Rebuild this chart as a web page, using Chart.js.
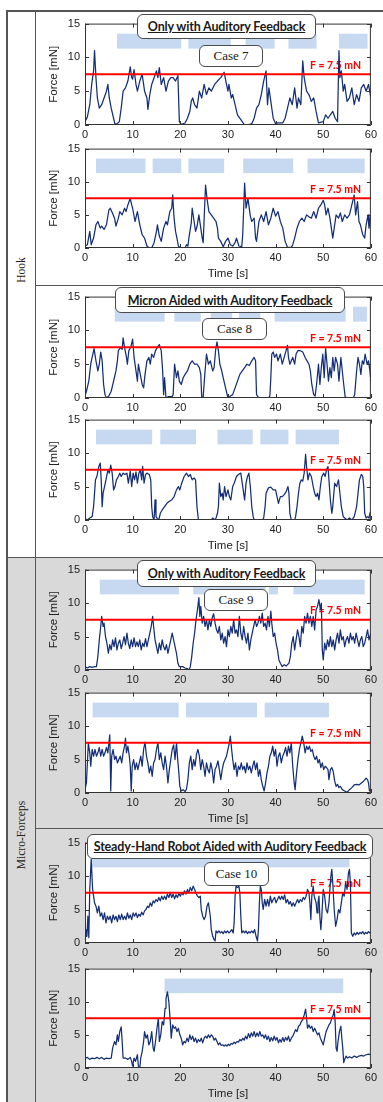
<!DOCTYPE html>
<html>
<head>
<meta charset="utf-8">
<script src="https://cdn.jsdelivr.net/npm/chart.js@4.4.1/dist/chart.umd.min.js"></script>
<style>
  body { margin:0; background:#fff; width:383px; height:1102px; position:relative; overflow:hidden; }
  canvas { position:absolute; }
  .gray { position:absolute; left:7px; top:557px; width:376px; height:545px; background:#d9d9d9; }
  .rule { position:absolute; background:#555; }
  .tbox, .cbox { position:absolute; background:#fff; border:1.5px solid #4a4a4a; border-radius:6px;
    box-sizing:border-box; display:flex; align-items:center; justify-content:center; white-space:nowrap; z-index:5; color:#1a1a1a; }
  .tbox { font-family:Lato, "Open Sans", sans-serif; font-weight:700; font-size:12.5px; text-decoration:underline; letter-spacing:-0.15px; }
  .cbox { font-family:"Liberation Serif", serif; font-size:13px; }
  .side { position:absolute; font-family:"Liberation Serif", serif; font-size:11.5px; color:#222;
    transform:translate(-50%,-50%) rotate(-90deg); white-space:nowrap; }
</style>
</head>
<body>
<div class="gray"></div>
<div class="rule" style="left:6px;top:10px;width:377px;height:1.5px"></div>
<div class="rule" style="left:6px;top:10px;width:1.5px;height:1092px"></div>
<div class="rule" style="left:34.5px;top:10px;width:1.5px;height:1092px"></div>
<div class="rule" style="left:6px;top:556.5px;width:377px;height:1.5px"></div>
<div class="rule" style="left:35px;top:284.5px;width:348px;height:1.5px"></div>
<div class="rule" style="left:35px;top:827.5px;width:348px;height:1.5px"></div>
<div class="side" style="left:21px;top:270px">Hook</div>
<div class="side" style="left:21px;top:835px">Micro-Forceps</div>

<div class="tbox" style="left:137px;top:14px;width:179px;height:25px">Only with Auditory Feedback</div>
<div class="cbox" style="left:199px;top:45px;width:64px;height:22px">Case 7</div>
<div class="tbox" style="left:115px;top:287px;width:230px;height:26px">Micron Aided with Auditory Feedback</div>
<div class="cbox" style="left:202px;top:318px;width:65px;height:22px">Case 8</div>
<div class="tbox" style="left:137px;top:560px;width:179px;height:27px">Only with Auditory Feedback</div>
<div class="cbox" style="left:204px;top:589px;width:64px;height:22px">Case 9</div>
<div class="tbox" style="left:87px;top:834px;width:286px;height:25px">Steady-Hand Robot Aided with Auditory Feedback</div>
<div class="cbox" style="left:204px;top:862px;width:65px;height:24px">Case 10</div>

<script>
// threshold line
const thresholdTime = [0, 60];
const thresholdForce = [7.5, 7.5];
const thresholdLabel = 'F = 7.5 mN';

// light blue task bands (start / end in s)
const bandForce = [11.3, 13.5];

// ---- Hook, case 7 ----
const case7TimeA = [
  0,0.5,1,1.4,1.8,2,2.3,2.6,3,3.5,
  4,4.5,4.8,5.1,5.5,6,6.3,6.8,7.2,7.6,
  8,8.5,9,9.5,9.8,10,10.3,10.7,11,11.5,
  12,12.5,13,13.2,13.6,14,14.5,15,15.3,15.6,
  16,16.5,17,17.5,18,18.5,19,19.5,19.8,20.2,
  21,21.5,22,22.3,22.6,23,23.5,24,24.5,25,
  25.5,26,26.5,27.2,27.8,28.5,29.2,29.7,30,30.2,
  30.7,31,31.5,32,33,33.5,34.5,35,35.5,36,
  36.5,37,37.5,38,38.3,38.6,39,39.5,40,40.5,
  41.5,42,42.5,43,43.5,44,44.5,44.8,45.3,45.7,
  46,46.5,47,47.5,48,48.5,49,50,50.5,51,
  52,52.5,53,53.3,53.5,53.8,54.2,54.5,55,55.5,
  56,56.5,57,57.5,58,58.5,59,59.5,60];
const case7ForceA = [
  0.5,1.2,3,6,8,11,7,4,2.5,3,
  4,5,6,4,2.5,1,0.1,0.2,0.5,2.5,
  5,5.5,6.5,8.6,7,6.8,8.2,6,5,6.5,
  7.5,5,4,2.3,4.5,6,7,8,7,8.5,
  6,7,5,6.5,7,7,6.5,7.3,0.5,0.1,
  0.3,1,2,3.5,4,3,2.5,5,4,6,
  4.5,5.5,5,6,6.5,7,7.8,6,5,6,
  4,4.5,3,1.5,0.5,0,0.1,0.2,1,2.5,
  3,4.5,6.5,8,3,5.5,3.5,1,0.2,0.3,
  0.3,1,2.5,4,3,5.5,2.5,4,3,9.5,
  7,5,4.5,3.5,4,2,0.3,0.5,1.5,1,
  2,1,0.5,11,7,8,5,6,3.5,4,
  5.5,3,4.5,3.5,5.5,6,5,6,4];
const case7StartA = [6.7, 21.7, 33.7, 42.7, 53.3];
const case7EndA = [20.2, 30.6, 39.8, 48.6, 59.3];

const case7TimeB = [
  0,0.5,1,1.3,1.8,2.3,2.7,3.2,3.5,4,
  4.5,5,5.3,5.8,6.2,6.5,7,7.3,7.8,8.3,
  8.6,9,9.5,9.8,10,10.5,11,11.5,12,12.5,
  13,13.5,14,14.5,15,15.2,15.6,16,16.5,17,
  17.3,17.8,18.2,18.4,18.7,19,19.3,19.6,20,21,
  21.3,21.6,21.8,22.3,22.5,22.9,23.2,23.5,23.9,24.3,
  24.6,24.8,25.3,25.6,26,26.5,27,27.5,27.8,28,
  28.5,29,29.5,30,30.5,31,31.5,31.8,32.3,32.9,
  33.1,33.5,33.8,34.2,34.7,35,35.5,35.8,36,36.5,
  37,37.5,38,38.5,39,39.5,40,40.5,41,41.5,
  42,42.5,43.3,43.6,44,44.5,45,45.5,46,46.5,
  47,47.5,48,48.5,49,49.5,50,50.3,50.6,51,
  51.4,51.8,52,52.3,52.7,53.2,53.6,54,54.5,55,
  55.5,56,56.5,56.8,57.2,57.5,57.8,58.3,58.7,59,
  59.4,59.6,60];
const case7ForceB = [
  0.3,0.5,2.5,0.5,1.5,3.5,4,3,3.3,2.8,
  3.5,5.7,6,5.2,4.5,3.3,4.5,5.5,5,6,
  5.5,6.5,7.5,6.5,6,4,5.5,3.5,2,1.5,
  0.3,0,0,0.8,2.5,3.5,1.8,1,3,4,
  3.5,5.5,6,8,4.5,2.5,1.5,0.3,0,0,
  0.5,0.3,1.5,3.8,6,4,2.5,3.2,5,3,
  1.5,0.8,9.5,7.5,5.5,5,4.5,4,3,1.5,
  1,0.2,1,1.5,0.5,0.3,0.8,1.5,0.3,0.2,
  2,9.8,6,7.5,4.8,4,4.5,1.5,1,4,
  5,4,5.5,3.5,4.5,6,4.8,5.5,4,3,
  1,0.1,0.1,0.5,1.5,3,4,4.5,4,5,
  4.7,4.5,5.5,4.5,6,6.5,7.2,6.5,5,6,
  4.5,2.5,1.5,3,5,4.5,5.3,4,5,4.5,
  5,6.5,8,5,7,4,3.5,2,1.5,3.5,
  5,3,5];
const case7StartB = [2.3, 14.2, 21.7, 33.2, 46.7];
const case7EndB = [12.7, 20.2, 29.2, 43.7, 58.7];

// ---- Hook, case 8 ----
const case8TimeA = [
  0,0.3,0.8,1.2,1.5,1.9,2.3,2.7,3,3.3,
  3.6,3.9,4.2,4.5,5,5.5,6,6.5,6.8,7,
  7.5,7.8,8,8.3,8.7,8.9,9.2,9.6,10,10.3,
  10.7,11,11.2,11.6,12,12.3,12.6,13,13.4,13.7,
  14,14.4,14.8,15.2,15.6,16,16.3,16.5,16.7,17,
  17.5,18.3,18.5,18.8,19.2,19.5,19.8,20.2,20.6,21,
  21.5,22,22.5,23,23.5,24,24.3,24.5,24.8,25.2,
  25.5,25.9,26.3,26.8,27.1,27.4,27.7,28,28.3,28.7,
  29,29.5,30,30.5,31,31.5,32,32.5,33,33.5,
  34,34.5,35,35.5,35.8,36,36.5,38.5,38.8,39,
  39.2,39.5,39.8,40.2,40.5,41,41.4,41.8,42.2,42.5,
  42.7,43,43.3,43.6,44,44.3,44.7,45.2,45.7,46.2,
  46.6,47,47.3,47.6,48,48.3,48.6,49,49.3,49.6,
  49.9,50.2,50.5,50.8,51.1,51.4,51.7,52,52.3,52.6,
  53,53.3,53.7,54,54.3,54.6,55,56.3,56.6,57,
  57.3,57.6,57.9,58.2,58.5,58.8,59.2,59.5,59.8,60];
const case8ForceA = [
  0.3,1,2.5,5,6,7.3,5.5,4,5,6.8,
  5.5,2,0.5,0,0.3,1,2.5,4,5.5,7,
  7.5,7.2,8.9,7.5,6,5,7,7.5,8.7,6,
  4,2.5,5,3.5,2,1.5,3.5,5.5,6,5,
  6.5,6,7,7.5,7.9,7,4,0.5,3,0,
  0.2,0.2,0.5,5,3,4,2.5,2,3,3.5,
  4,5,5.5,5,5,4.5,3.5,0,0.2,4,
  6.5,5,5.5,4,4.5,7,8.3,7,5,4,
  3,1.5,0,0.3,0.5,1.5,2.5,3.5,4,4.5,
  5,4.8,5.5,6,5.5,0.5,0,0,0.3,3,
  6.5,6.8,6,6.5,5.5,6.5,5,6,7,7.8,
  6,5,5.5,6,5,6.5,7,7,6.8,6,
  5.5,5,4,2,0.5,0.3,2,5,2,4.5,
  6.5,3,7.3,5,2.5,4.5,3,6,4,6,
  5,2.5,6,4,2,0.2,0,0,0.5,4,
  6,5,3.5,5.5,5,6.5,5,5.5,4,2.5];
const case8StartA = [6.25, 18.75, 26.4, 32.3, 39.8, 56.25];
const case8EndA = [16.7, 24.3, 30.9, 36.8, 54.7, 59.2];

const case8TimeB = [
  0,0.5,1,1.5,1.8,2.2,2.5,2.9,3.2,3.4,
  3.6,3.8,4.1,4.4,4.8,5.1,5.4,5.7,6,6.3,
  6.6,7,7.3,7.6,8,8.4,8.8,9.1,9.5,9.8,
  10.1,10.4,10.7,11,11.3,11.6,11.9,12.1,12.4,12.7,
  13,13.5,13.8,14,14.2,14.5,14.7,14.9,15.2,15.5,
  15.8,16.2,16.7,17.2,17.7,18.2,18.7,19.2,19.6,19.9,
  20.3,20.8,21.3,21.7,22.1,22.5,22.9,23.2,23.5,23.8,
  26.5,26.8,27.2,27.5,27.8,28,28.2,28.5,28.8,29,
  29.3,29.6,30,30.3,30.6,31,31.3,31.8,32.2,32.7,
  33,33.3,33.5,33.8,34.1,34.4,34.7,35,35.3,35.5,
  37.2,37.5,37.8,38,38.5,39,39.5,40,40.3,40.6,
  41,41.4,41.8,42.2,42.6,42.8,43,43.3,44,44.2,
  44.5,44.8,45.1,45.4,45.7,46,46.3,46.5,46.8,47.1,
  47.5,47.9,48.2,48.5,48.8,49.1,49.4,49.7,50.1,50.4,
  50.7,51,51.2,51.5,51.8,52,52.4,52.8,53.2,53.5,
  53.8,54.2,54.7,55,55.5,56,56.5,57,57.3,57.6,
  58,58.3,58.5,58.7,59,59.3,59.6,59.8,60];
const case8ForceB = [
  0.2,0,0.3,0.5,2,6,6.5,8,8.5,6,
  2,4,5,6,7.5,7,8.2,7,4.5,5,
  6,6.5,7,6.5,7,6.8,7,5.5,7.3,5,
  7,6,7.2,5.5,7,7.5,6,8,5.5,6.8,
  7,6.8,6,2,0.5,0,3,0.5,0.2,0,
  1,1.5,2,2.5,2.8,3,3.5,4.5,5,4.5,
  5.5,6.5,7,6.5,6.8,6,6.3,6,2,0,
  0,0.3,0,0.3,1,2,5.5,3.5,4,3,
  5,3.5,4.5,3.5,3,5,5.5,6.5,6.8,7,
  5.5,4,3,5.5,6.5,7,5,2,0.5,0,
  0,0.3,2,4,4.8,4.9,4.5,4.5,3.5,2.5,
  3.5,3.5,3.8,4.2,5,4,1,0,0,0.5,
  2,4,5.5,6,5.8,7,9.8,8,6,7,
  6.5,5,4,3.5,4,3,5,6.5,7,6.5,
  7.5,8,6,3,1,2,5.5,5,6,4,
  2,0.5,0.2,0,0.3,0,0.5,2,4,6,
  6.8,6.5,5,1,0.3,0.5,0.3,1,1.3];
const case8StartB = [2.3, 15.8, 27.8, 36.8, 44.2];
const case8EndB = [14.1, 23.3, 35.2, 42.7, 53.3];

// ---- Micro-Forceps, case 9 ----
const case9TimeA = [
  0,0.5,1,1.5,2,2.4,2.7,3,3.3,3.5,
  3.8,4,4.3,4.6,4.9,5.2,5.5,5.8,6.1,6.4,
  6.7,7,7.3,7.6,7.9,8.2,8.5,8.8,9.1,9.4,
  9.7,10,10.3,10.6,10.9,11.2,11.5,11.8,12.1,12.4,
  12.7,13,13.3,13.6,13.9,14.2,14.4,14.7,15,15.3,
  15.6,15.9,16.2,16.5,16.8,17.1,17.4,17.7,18,18.3,
  18.6,18.9,19.2,19.5,19.8,20.5,21,21.5,21.8,22.1,
  22.4,22.7,23,23.3,23.6,23.9,24.1,24.3,24.6,24.9,
  25.2,25.5,25.8,26.1,26.4,26.7,27,27.3,27.6,27.9,
  28.2,28.5,28.8,29.1,29.4,29.7,30,30.3,30.6,30.9,
  31.2,31.5,31.8,32.1,32.4,32.7,33,33.3,33.6,33.9,
  34.2,34.5,34.8,35.1,35.4,35.7,36,36.3,36.6,36.9,
  37.2,37.5,37.8,38.1,38.4,38.7,39,39.2,39.5,39.8,
  40.1,40.4,40.7,41,41.4,41.8,42.2,42.5,42.8,43.1,
  43.4,43.7,44,44.3,44.6,44.9,45.2,45.5,45.8,46.1,
  46.4,46.7,47,47.3,47.6,47.9,48.2,48.5,48.8,49.1,
  49.4,49.6,49.8,50,50.3,50.6,50.9,51.2,51.5,51.8,
  52.1,52.4,52.7,53,53.3,53.6,53.9,54.2,54.5,54.8,
  55.1,55.4,55.7,56,56.3,56.6,56.9,57.2,57.5,57.8,
  58.1,58.4,58.7,59,59.3,59.6,60];
const case9ForceA = [
  0.5,0.3,0.5,0.4,0.5,0.5,2,4.5,6.5,8,
  6.5,7,5,4,2.5,3.8,3,4.5,3.5,4.8,
  3,4,4.5,3.2,4,5,3.8,5.5,4,3.2,
  4.5,3.5,4.8,3.5,4.2,3.5,4.5,3,4,3.5,
  4.7,3.5,4.5,5.5,6.5,8,6.5,4.5,3.5,2.5,
  4,3,4.5,3.5,3,3.8,2.5,3.5,4.5,5.5,
  4.5,3.5,2.5,1,0.5,0.5,0.3,0.2,0,0.5,
  2,4,5.5,7.5,9,10.8,8,9.5,7,8,
  6.5,7.5,6,7.5,6.5,7.8,8.4,7,6,5.5,
  6.5,4.5,5.5,4,5,3.5,6,5,6.5,5.5,
  7.5,5.5,6,5,8,5.5,4.5,6.5,5,4,
  5.5,3,4.5,5.5,6.5,7.5,6.5,7,8,7,
  8.5,6.5,7,6,8,6.5,8.8,7,5,5.5,
  4,3,1.5,1,0.5,0.8,0.6,0.8,1,2,
  4,5,3,4.5,6,5,3.5,6.5,5.5,8,
  7,8.5,7,8,6.5,8,6,9,9.5,10.5,
  9,10,3,1.5,4,3,4.5,3.5,5,3.5,
  4.5,3,4.5,5.5,4,6,4.5,5,3.5,4.5,
  5,4,5.5,4.5,5,4,5.5,4.5,3.5,4.5,
  5,3.5,4,5,6,4.5,5.5];
const case9StartA = [3.1, 22.7, 38.6, 43.75];
const case9EndA = [19.7, 37.9, 40.5, 58.7];

const case9TimeB = [
  0,0.3,0.7,1,1.2,1.5,1.8,2.1,2.4,2.7,
  3,3.3,3.6,3.9,4.2,4.5,4.8,5.2,5.3,5.4,
  5.6,5.9,6.2,6.5,6.8,7.1,7.4,7.7,8,8.3,
  8.5,8.7,9,9.3,9.5,9.7,9.9,10.2,10.5,10.8,
  11.1,11.4,11.7,12,12.3,12.6,12.9,13.2,13.5,13.8,
  14.1,14.4,14.7,15,15.3,15.6,15.9,16.2,16.5,16.8,
  17.1,17.4,17.7,18,18.3,18.6,18.9,19.2,19.4,19.7,
  19.9,20.2,20.6,21,21.3,21.6,21.9,22.2,22.5,22.8,
  23.1,23.4,23.7,24,24.3,24.6,24.9,25.2,25.5,25.8,
  26.1,26.4,26.7,27,27.3,27.6,27.9,28.2,28.5,28.8,
  29.1,29.4,29.7,30,30.3,30.5,30.7,31,31.3,31.6,
  31.9,32.2,32.5,32.8,33.1,33.4,33.7,34,34.3,34.6,
  34.9,35.2,35.5,35.8,36.1,36.4,36.7,37,37.3,37.6,
  37.9,38.2,38.5,38.8,39.1,39.4,39.7,40,40.3,40.6,
  40.9,41.2,41.5,41.8,42.1,42.4,42.7,43,43.3,43.6,
  43.9,44.1,44.4,44.7,45,45.3,45.6,45.9,46.2,46.5,
  46.8,47.1,47.4,47.7,48,48.3,48.6,48.9,49.2,49.5,
  49.8,50.1,50.4,50.7,51,51.2,51.5,51.8,52.1,52.4,
  52.7,53,53.3,53.6,54,54.5,55,55.5,56,56.5,
  57,57.5,58,58.5,59,59.3,59.5,59.7,60];
const case9ForceB = [
  0.5,1.5,7.5,6,4,6.5,5.5,6.5,5.5,6,
  6.8,5.5,6.5,5.5,6,6.8,6,8.7,5,0.3,
  5.5,6.5,5,5.5,4.5,5,5.5,4.5,6,7,
  8.2,6,7,5.5,4,0.3,4,5,3.5,4.5,
  3.5,4.5,5.5,4,6.5,7.6,5.5,4.5,3,4,
  2.5,4.5,5,6.5,7.5,5,6,4.5,3.5,5.5,
  4,1.5,3.5,5,6.5,7.2,5,7.5,5.5,3,
  1,0.3,0.5,0.2,0.6,2,4.5,5.5,3.5,5,
  4,5.8,6.5,5.5,3.5,5,4,2.5,4.5,3.5,
  3,4.5,3.5,1.5,3.5,4,4.8,3.5,2,3.5,
  4.5,5,5.5,6.5,7.5,8.5,7,5,3.5,4.5,
  2.5,4,3.5,4.5,3.5,4,3,4.5,3.5,4,
  3,4,4.8,3.5,4.5,2.5,3.5,2,1,0.3,
  1.5,3,4,5.5,6,7,5.5,6.5,4,5.5,
  6,4.5,5.5,6,6.8,5.5,7,6,7.5,4,
  1.5,0.5,3,5,6.5,7.5,8.5,7.5,6,7,
  6.5,7,6.2,6.5,5.5,5,5.5,4.5,5,3.8,
  4.5,3.5,4,3.8,3.5,2,3.5,3.8,3.2,1.8,
  1,1.3,0.8,1,0.5,0.3,0.1,0.5,0.8,1.2,
  1.3,1.2,1.5,1.8,2.2,2,1.5,0.3,0.5];
const case9StartB = [1.6, 21.2, 37.7];
const case9EndB = [19.65, 36.1, 51.2];

// ---- Micro-Forceps, case 10 ----
const case10TimeA = [
  0,0.2,0.4,0.6,0.8,1,1.3,1.6,1.8,2,
  2.3,2.6,2.9,3.2,3.5,3.8,4.1,4.4,4.7,5,
  5.3,5.6,5.9,6.2,6.5,6.8,7.1,7.4,7.7,8,
  8.3,8.6,8.9,9.2,9.5,9.8,10.1,10.4,10.7,11,
  11.3,11.6,11.9,12.2,12.5,12.8,13.1,13.4,13.7,14,
  14.3,14.6,14.9,15.2,15.5,15.8,16.1,16.4,16.7,17,
  17.3,17.6,17.9,18.2,18.5,18.8,19.1,19.4,19.7,20,
  20.3,20.6,20.9,21.2,21.5,21.8,22.1,22.4,22.7,23,
  23.3,23.6,23.9,24.2,24.4,24.7,25,25.3,25.6,25.9,
  26.1,26.3,26.5,26.8,27.1,27.3,27.5,27.8,28.1,28.4,
  28.7,29,29.3,29.6,29.9,30.2,30.5,30.8,31.1,31.3,
  31.5,31.7,32,32.3,32.5,32.7,32.9,33.2,33.5,33.8,
  34.1,34.4,34.7,35,35.3,35.6,35.9,36.2,36.4,36.6,
  36.8,37,37.2,37.4,37.7,38,38.3,38.6,38.9,39.2,
  39.5,39.8,40.1,40.4,40.7,41,41.3,41.6,41.9,42.2,
  42.5,42.8,43.1,43.4,43.7,44,44.3,44.6,44.9,45.2,
  45.5,45.8,46.1,46.4,46.7,47,47.2,47.4,47.6,47.9,
  48.1,48.3,48.5,48.7,48.9,49.1,49.3,49.5,49.7,50,
  50.3,50.6,50.9,51.2,51.4,51.6,51.8,52,52.3,52.6,
  52.9,53.2,53.5,53.8,54.1,54.4,54.7,55,55.3,55.5,
  55.7,55.9,56.2,56.5,56.8,57.1,57.4,57.7,58,58.3,
  58.6,58.9,59.2,59.5,59.8,60];
const case10ForceA = [
  1,2,1,4,0.8,8,12.5,8,7,6,
  5.5,4.5,5.5,4,4.5,3.5,4.5,3,4,3.5,
  4,3,4.2,3.5,4,3.2,4.2,3.5,4.3,3.5,
  4,3.5,4.5,3.7,4.2,3.5,4.5,4,4.5,3.8,
  4.3,4,4.6,4.2,4.8,5,5.5,5.3,6,5.5,
  6.3,6,6.5,6.2,6.8,6.3,7,6.5,7,6.5,
  7.3,6.8,7.5,6.8,7.3,6.6,7.2,6.8,7.4,7,
  7.5,7.2,7.8,7.3,8,7.5,8.3,7.8,8.5,8,
  7.5,7,6.8,7,5,4,3.5,4,5.5,6,
  5,4,2,1,0.5,0.3,1.8,1.5,1.8,1.5,
  1.7,1.4,1.8,1.5,1.8,1.5,1.7,2,1.5,3,
  7,8.5,8.3,8.5,7.5,4,1.5,1.8,1.5,1.8,
  1.4,1.7,1.5,1.8,1.5,2,1,0.3,2,6,
  8.5,8,6,5,6.5,5.5,6.5,5.5,7,6,
  6.5,6.8,6,6.5,7,6.5,7,6.5,7.2,6,
  6.5,5.8,6.2,5.5,6,5.5,6,6.5,6,6.5,
  6.2,6.8,6.5,7,8,7.5,6,3.5,7,8.5,
  7,6.5,6,4.5,6,7,3.8,2,4,8,
  7,5,4.5,6,8,10,11,9,5,2.5,
  3.5,5,4.5,6,7.5,7,9,8,10.5,11,
  9,1.5,1,1.5,1.2,1.6,1.3,1.6,1.4,1.7,
  1.3,1.6,1.4,1.7,1.5,1.6];
const case10StartA = [1.4];
const case10EndA = [55.5];

const case10TimeB = [
  0,0.5,1,1.5,2,2.5,3,3.5,4,4.5,
  5,5.5,5.8,6.2,6.5,6.8,7,7.3,7.6,7.8,
  8,8.5,9,9.5,9.8,10,10.3,10.6,11,11.2,
  11.5,11.7,12,12.3,12.5,12.8,13.1,13.4,13.7,14,
  14.3,14.5,14.8,15.1,15.4,15.6,15.9,16.2,16.5,16.8,
  17,17.3,17.6,17.9,18.1,18.4,18.7,19,19.3,19.6,
  19.9,20.2,20.5,20.8,21.1,21.4,21.7,22,22.3,22.6,
  22.9,23.2,23.5,23.8,24.1,24.4,24.7,25,25.3,25.6,
  25.9,26.2,26.5,26.8,27.1,27.4,27.7,28,28.3,28.6,
  28.9,29.2,29.5,29.8,30.1,30.4,30.7,31,31.3,31.6,
  31.9,32.2,32.5,32.8,33.1,33.4,33.7,34,34.3,34.6,
  34.9,35.2,35.5,35.8,36.1,36.4,36.7,37,37.3,37.6,
  37.9,38.2,38.5,38.8,39.1,39.4,39.7,40,40.3,40.6,
  40.9,41.2,41.5,41.8,42.1,42.4,42.7,43,43.3,43.6,
  43.9,44.2,44.5,44.8,45.1,45.4,45.7,46,46.3,46.5,
  46.7,47,47.3,47.6,47.9,48.2,48.5,48.8,49.1,49.4,
  49.7,50,50.3,50.6,50.9,51.2,51.5,51.8,52.1,52.3,
  52.5,52.7,52.9,53.1,53.4,53.7,53.9,54.1,54.3,54.5,
  54.8,55.1,55.5,56,56.5,57,57.5,58,58.5,59,
  59.5,60];
const case10ForceB = [
  1.5,1.6,1.3,1.5,1.4,1.6,1.4,1.6,1.3,1.5,
  1.4,1.5,3,4,3.5,5,4,5.5,6.2,4,
  1.5,1.5,1.3,1.6,1,0.3,1.5,1,2,0.3,
  0,1.5,2.5,4,5.5,4.5,5,3.5,4,5.5,
  3,2.5,4,6,7.5,4,5,7,6.5,9,
  10.5,11.5,10,7,4.5,6.5,6,6.2,5.5,6,
  5,4.5,3.5,4,3.8,4.5,4,5,4.3,4.8,
  4,4.5,3.8,4.3,4,4.5,3.8,4.5,4.8,4.5,
  5,4.6,5,4.8,4.2,4.5,4,3.5,3.8,3.4,
  3.5,3.3,3.5,3.3,3.6,3.4,3.7,3.6,3.9,3.7,
  4,3.9,4.3,4.1,4.5,4.2,4.8,4.4,5.2,4.6,
  5.3,4.8,5.5,4.7,5.3,4.8,5.5,4.8,5,4.5,
  5,4.3,4.8,4,4.6,4.1,4.8,4.2,4.6,3.8,
  4.3,3.9,4.6,4,4.6,4.2,4.8,4,4.5,4.8,
  5.3,5.8,5.5,6.3,6.5,7,7.3,8,8.9,7.5,
  6,6.5,6,6.3,5.5,6,5.5,5,5.3,4.5,
  4,3.5,4.5,5.5,6,6.5,6.8,7.5,8,8.8,
  7,3,2.5,4,5.5,6.3,4.5,3,0.8,1.3,
  1.8,1.5,1.7,1.5,1.8,1.6,1.8,1.9,1.8,2,
  2.1,2];
const case10StartB = [16.7];
const case10EndB = [54.2];

const panels = [
  { top: 22,  bottom: 125,  xTitle: false, time: case7TimeA,  force: case7ForceA,  starts: case7StartA,  ends: case7EndA },
  { top: 147, bottom: 248,  xTitle: true,  time: case7TimeB,  force: case7ForceB,  starts: case7StartB,  ends: case7EndB },
  { top: 295, bottom: 398,  xTitle: false, time: case8TimeA,  force: case8ForceA,  starts: case8StartA,  ends: case8EndA },
  { top: 418, bottom: 520,  xTitle: true,  time: case8TimeB,  force: case8ForceB,  starts: case8StartB,  ends: case8EndB },
  { top: 568, bottom: 670,  xTitle: false, time: case9TimeA,  force: case9ForceA,  starts: case9StartA,  ends: case9EndA },
  { top: 691, bottom: 793,  xTitle: true,  time: case9TimeB,  force: case9ForceB,  starts: case9StartB,  ends: case9EndB },
  { top: 841, bottom: 943,  xTitle: false, time: case10TimeA, force: case10ForceA, starts: case10StartA, ends: case10EndA },
  { top: 967, bottom: 1068, xTitle: true,  time: case10TimeB, force: case10ForceB, starts: case10StartB, ends: case10EndB }
];

// white plot area, task bands, threshold label, matlab-style frame with inward ticks
const panelDecor = {
  id: 'panelDecor',
  beforeDraw(chart) {
    const { ctx, chartArea: a } = chart;
    ctx.save();
    ctx.fillStyle = '#fff';
    ctx.fillRect(a.left, a.top, a.right - a.left, a.bottom - a.top);
    ctx.restore();
  },
  beforeDatasetsDraw(chart, args, opts) {
    const { ctx, scales: { x, y } } = chart;
    ctx.save();
    ctx.fillStyle = '#c6d9f0';
    const yTop = y.getPixelForValue(bandForce[1]);
    const yBot = y.getPixelForValue(bandForce[0]);
    opts.starts.forEach((s, i) => {
      const x0 = x.getPixelForValue(s), x1 = x.getPixelForValue(opts.ends[i]);
      ctx.fillRect(x0, yTop, x1 - x0, yBot - yTop);
    });
    ctx.font = 'bold 10.5px Lato, sans-serif';
    ctx.fillStyle = '#ff0000';
    ctx.textBaseline = 'middle';
    ctx.fillText(thresholdLabel, x.getPixelForValue(47.2), y.getPixelForValue(8.8));
    ctx.restore();
  },
  afterDraw(chart) {
    const { ctx, chartArea: a, scales: { x, y } } = chart;
    ctx.save();
    ctx.strokeStyle = '#333';
    ctx.lineWidth = 1;
    ctx.strokeRect(a.left + 0.5, a.top + 0.5, a.right - a.left - 1, a.bottom - a.top - 1);
    ctx.beginPath();
    x.ticks.forEach(t => {
      const px = Math.round(x.getPixelForValue(t.value)) + 0.5;
      ctx.moveTo(px, a.bottom); ctx.lineTo(px, a.bottom - 4);
      ctx.moveTo(px, a.top); ctx.lineTo(px, a.top + 4);
    });
    y.ticks.forEach(t => {
      const py = Math.round(y.getPixelForValue(t.value)) + 0.5;
      ctx.moveTo(a.left, py); ctx.lineTo(a.left + 4, py);
      ctx.moveTo(a.right, py); ctx.lineTo(a.right - 4, py);
    });
    ctx.stroke();
    ctx.restore();
  }
};

const tickFont = { family: '"Liberation Sans", Arial, sans-serif', size: 11 };
const titleFont = { family: '"Liberation Sans", Arial, sans-serif', size: 11.5 };

function makePanel(p) {
  if (p.time.length !== p.force.length) console.error('length mismatch', p.top, p.time.length, p.force.length);
  const padTop = 10;
  const B = p.xTitle ? 34 : 18;
  const w = 344;
  const h = (p.bottom - p.top) + padTop + B;
  const c = document.createElement('canvas');
  c.width = w; c.height = h;
  c.style.left = '36px';
  c.style.top = (p.top - padTop) + 'px';
  c.style.width = w + 'px'; c.style.height = h + 'px';
  document.body.appendChild(c);

  new Chart(c, {
    type: 'line',
    data: {
      datasets: [
        {
          data: thresholdTime.map((t, i) => ({ x: t, y: thresholdForce[i] })),
          borderColor: '#ff0000', borderWidth: 2, pointRadius: 0
        },
        {
          data: p.time.map((t, i) => ({ x: t, y: p.force[i] })),
          borderColor: '#142f77', borderWidth: 1.25, pointRadius: 0,
          borderJoinStyle: 'round', tension: 0
        }
      ]
    },
    options: {
      responsive: false,
      animation: false,
      devicePixelRatio: 1,
      events: [],
      layout: { padding: { top: padTop, right: w - (373 - 36), bottom: 0, left: 0 } },
      plugins: {
        legend: { display: false },
        tooltip: { enabled: false },
        panelDecor: { starts: p.starts, ends: p.ends }
      },
      scales: {
        x: {
          type: 'linear', min: 0, max: 60,
          grid: { display: false, drawTicks: false }, border: { display: false },
          ticks: { stepSize: 10, autoSkip: false, maxRotation: 0, padding: 3, color: '#222', font: tickFont },
          title: { display: p.xTitle, text: 'Time [s]', color: '#222', font: titleFont, padding: { top: 0, bottom: 1 } },
          afterFit(s) { s.height = B; }
        },
        y: {
          type: 'linear', min: 0, max: 15,
          grid: { display: false, drawTicks: false }, border: { display: false },
          ticks: { stepSize: 5, padding: 5, color: '#222', font: tickFont },
          title: { display: true, text: 'Force [mN]', color: '#222', font: titleFont, padding: { top: 11, bottom: 0 } },
          afterFit(s) { s.width = 49; }
        }
      }
    },
    plugins: [panelDecor]
  });
}

panels.forEach(makePanel);
</script>
</body>
</html>
